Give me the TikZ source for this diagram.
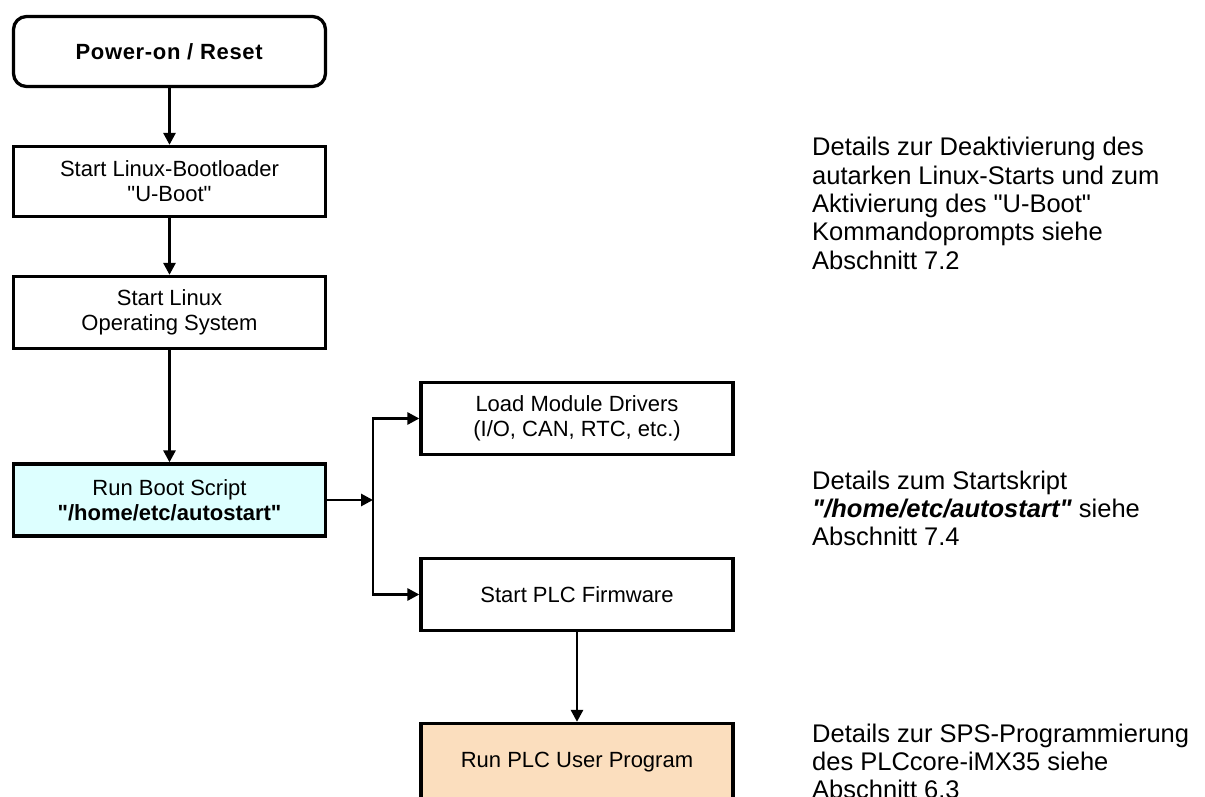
\documentclass[tikz,border=0pt]{standalone}
\usepackage{fontspec}
\setmainfont{Liberation Sans}[Ligatures=TeXOff]
\usetikzlibrary{arrows.meta}
\definecolor{cyanfill}{RGB}{221,255,255}
\definecolor{peachfill}{RGB}{251,222,190}
\begin{document}
\begin{tikzpicture}[x=1pt,y=1pt,
  box/.style={draw, line width=3.3pt, minimum width=312pt, minimum height=72pt,
    align=center, inner sep=0pt, font=\fontsize{22}{25}\selectfont},
  arr/.style={line width=2.8pt, -{Triangle[length=12pt,width=12pt]}},
  note/.style={anchor=base west, inner sep=0pt, align=left,
    font=\fontsize{25.5}{28.3}\selectfont}]
\useasboundingbox (0,0) rectangle (1205,796);
\clip (0,0) rectangle (1205,796);

\node[box, rounded corners=13pt, minimum height=70pt] (power) at (169.5,744.5) {\addfontfeatures{LetterSpace=3}\textbf{Power-on / Reset}};
\node[box, minimum height=70pt] (uboot) at (169.5,614.5) {Start Linux-Bootloader\\"U-Boot"};
\node[box] (linux) at (169.5,483.5) {Start Linux\\Operating System};
\node[box, fill=cyanfill] (script) at (169.5,296) {Run Boot Script\\\textbf{"/home/etc/autostart"}};
\node[box] (drivers) at (577,377.5) {Load Module Drivers\\(I/O, CAN, RTC, etc.)};
\node[box] (firmware) at (577,201.5) {Start PLC Firmware};
\node[box, fill=peachfill, minimum height=77pt] (user) at (577,34) {Run PLC User Program};

\coordinate (split) at (373,296);

\draw[arr] (power) -- (uboot);
\draw[arr] (uboot) -- (linux);
\draw[arr] (linux) -- (script);
\draw[arr] (script.east) -- (split);
\draw[arr] (split) |- (drivers.west);
\draw[arr] (split) |- (firmware.west);
\draw[arr] (firmware) -- (user);

\node[note] (n1) at (812,526.8) {Details zur Deaktivierung des\\autarken Linux-Starts und zum\\Aktivierung des "U-Boot"\\Kommandoprompts siehe\\Abschnitt 7.2};
\node[note] (n2) at (812,250.4) {Details zum Startskript\\\textbf{\textit{"/home/etc/autostart"}} siehe\\Abschnitt 7.4};
\node[note] (n3) at (812,-2.6) {Details zur SPS-Programmierung\\des PLCcore-iMX35 siehe\\Abschnitt 6.3};
\end{tikzpicture}
\end{document}
